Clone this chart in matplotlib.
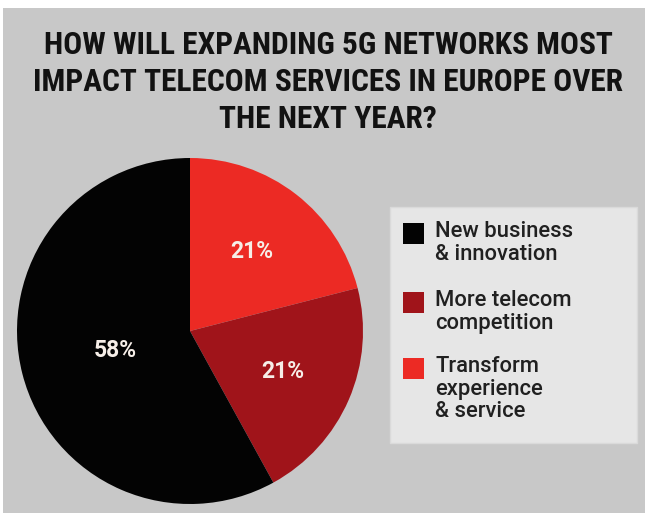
import matplotlib.pyplot as plt
from matplotlib.patches import Rectangle

# Survey shares, drawn clockwise from 12 o'clock
labels = ["Transform\nexperience\n& service", "More telecom\ncompetition", "New business\n& innovation"]
shares = [21, 21, 58]
colors = ["#ec2a24", "#a0141a", "#030303"]

# Legend order as listed in the key
legend_order = [2, 1, 0]

title = ("HOW WILL EXPANDING 5G NETWORKS MOST\n"
         "IMPACT TELECOM SERVICES IN EUROPE OVER\n"
         "THE NEXT YEAR?")

W, H = 649, 513
fig = plt.figure(figsize=(W / 100, H / 100), dpi=100, facecolor="white")

# grey panel behind everything
fig.patches.append(Rectangle((3 / W, 0), 642 / W, (H - 8) / H, transform=fig.transFigure,
                             facecolor="#c8c8c8", edgecolor="none", zorder=-10))

fig.text(328 / W, 1 - 82 / H, title, ha="center", va="center", fontsize=22.6,
         fontweight="bold", family="Roboto Condensed",
         color="#121212", linespacing=1.28)

# pie centred at (190, 331) px with radius 173 px
cx, cy, r = 190, 331, 173
ax = fig.add_axes([(cx - r) / W, (H - cy - r) / H, 2 * r / W, 2 * r / H])
wedges, _, autotexts = ax.pie(
    shares, colors=colors, startangle=90, counterclock=False,
    autopct=lambda p: f"{p:.0f}%", pctdistance=0.585,
    wedgeprops=dict(linewidth=0), radius=1,
    textprops=dict(color="#f6eee8", fontsize=16.5, fontweight="bold", family="Roboto"))
# pull the big-slice label a little towards the centre
x, y = autotexts[2].get_position()
autotexts[2].set_position((x * 0.76, y * 0.76))
ax.set_xlim(-1, 1)
ax.set_ylim(-1, 1)
ax.set_aspect("equal")
ax.axis("off")

# key box
bx0, by0, bx1, by1 = 390, 207, 637, 443
fig.patches.append(Rectangle((bx0 / W, 1 - by1 / H), (bx1 - bx0) / W, (by1 - by0) / H,
                             transform=fig.transFigure, facecolor="#e6e6e6",
                             edgecolor="#dadada", linewidth=1, zorder=-5))

tops = [223, 292, 358]
for top, i in zip(tops, legend_order):
    fig.patches.append(Rectangle((403 / W, 1 - (top + 21) / H), 21 / W, 21 / H,
                                 transform=fig.transFigure, facecolor=colors[i],
                                 edgecolor="none"))
    fig.text(435 / W, 1 - (top - 2) / H, labels[i], ha="left", va="top",
             fontsize=15.8, family="Roboto", fontweight="medium",
             color="#202020", linespacing=1.1)

fig.savefig("out.png", dpi=100, facecolor=fig.get_facecolor())
